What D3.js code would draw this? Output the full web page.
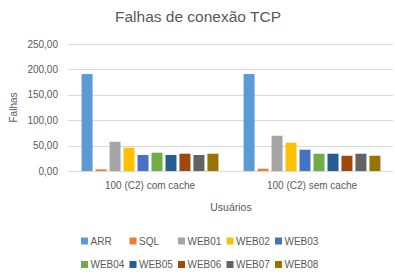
<!DOCTYPE html>
<html>
<head>
<meta charset="utf-8">
<script src="https://cdn.jsdelivr.net/npm/d3@7"></script>
<style>
  body { margin: 0; background: #fff; }
  text { font-family: "Segoe UI", "Liberation Sans", Arial, sans-serif; fill: #595959; }
</style>
</head>
<body>
<div id="chart"></div>
<script>
var categories = ["100 (C2) com cache", "100 (C2) sem cache"];
var series = ["ARR", "SQL", "WEB01", "WEB02", "WEB03", "WEB04", "WEB05", "WEB06", "WEB07", "WEB08"];
var colors = ["#5B9BD5", "#ED7D31", "#A5A5A5", "#FFC000", "#4472C4", "#70AD47", "#255E91", "#9E480E", "#636363", "#997300"];
// values per series: [com cache, sem cache]
var values = [
    [190.8, 190.8],
    [3.3, 4.5],
    [57.6, 69.4],
    [45.8, 55.7],
    [31.5, 41.9],
    [36.0, 34.0],
    [31.5, 34.0],
    [34.0, 30.0],
    [31.5, 34.0],
    [34.0, 30.0]
];
var yTicks = [0, 50, 100, 150, 200, 250];

var width = 395, height = 278;
var margin = { top: 44, right: 2, bottom: 107, left: 69 };

var svg = d3.select("#chart").append("svg")
    .attr("width", width)
    .attr("height", height);

var x0 = d3.scaleBand()
    .domain(categories)
    .range([margin.left, width - margin.right])
    .padding(0);

var x1 = d3.scaleBand()
    .domain(series)
    .range([0, x0.bandwidth()])
    .paddingInner(0.214)
    .paddingOuter(0.9);

var y = d3.scaleLinear()
    .domain([0, 250])
    .range([height - margin.bottom, margin.top]);

var locale = d3.formatLocale({ decimal: ",", thousands: ".", grouping: [3], currency: ["R$", ""] });
var fmt = locale.format(",.2f");

// gridlines
svg.append("g")
    .selectAll("line")
    .data(yTicks)
    .enter().append("line")
    .attr("x1", margin.left - 1)
    .attr("x2", width - margin.right)
    .attr("y1", function (d) { return Math.round(y(d)) + 0.5; })
    .attr("y2", function (d) { return Math.round(y(d)) + 0.5; })
    .attr("stroke", "#d9d9d9")
    .attr("stroke-width", 1);

// y tick labels
svg.append("g")
    .selectAll("text")
    .data(yTicks)
    .enter().append("text")
    .attr("x", 58)
    .attr("y", function (d) { return y(d); })
    .attr("dy", "0.35em")
    .attr("text-anchor", "end")
    .style("font-size", "10px")
    .text(function (d) { return fmt(d); });

// bars
var groups = svg.append("g")
    .selectAll("g")
    .data(categories)
    .enter().append("g")
    .attr("transform", function (d) { return "translate(" + x0(d) + ",0)"; });

groups.selectAll("rect")
    .data(function (c, ci) {
        return series.map(function (s, si) { return { s: s, i: si, v: values[si][ci] }; });
    })
    .enter().append("rect")
    .attr("x", function (d) { return x1(d.s); })
    .attr("width", x1.bandwidth())
    .attr("y", function (d) { return y(d.v); })
    .attr("height", function (d) { return y(0) - y(d.v); })
    .attr("fill", function (d) { return colors[d.i]; });

// category labels
svg.append("g")
    .selectAll("text")
    .data(categories)
    .enter().append("text")
    .attr("x", function (d) { return x0(d) + x0.bandwidth() / 2; })
    .attr("y", 189)
    .attr("text-anchor", "middle")
    .style("font-size", "10px")
    .text(function (d) { return d; });

// title
svg.append("text")
    .attr("x", 198)
    .attr("y", 22)
    .attr("text-anchor", "middle")
    .style("font-size", "15.5px")
    .text("Falhas de conexão TCP");

// axis titles
svg.append("text")
    .attr("transform", "translate(17," + ((margin.top + height - margin.bottom) / 2) + ") rotate(-90)")
    .attr("text-anchor", "middle")
    .style("font-size", "10px")
    .text("Falhas");

svg.append("text")
    .attr("x", (margin.left + width - margin.right) / 2)
    .attr("y", 211)
    .attr("text-anchor", "middle")
    .style("font-size", "10.5px")
    .text("Usuários");

// legend
var legend = svg.append("g")
    .selectAll("g")
    .data(series)
    .enter().append("g")
    .attr("transform", function (d, i) {
        var col = i % 5, row = Math.floor(i / 5);
        return "translate(" + (81 + col * 48.5) + "," + (241 + row * 23.5) + ")";
    });

legend.append("rect")
    .attr("x", 0)
    .attr("y", -3.5)
    .attr("width", 7)
    .attr("height", 7)
    .attr("fill", function (d, i) { return colors[i]; });

legend.append("text")
    .attr("x", 9.5)
    .attr("y", 0)
    .attr("dy", "0.35em")
    .style("font-size", "10px")
    .text(function (d) { return d; });
</script>
</body>
</html>
